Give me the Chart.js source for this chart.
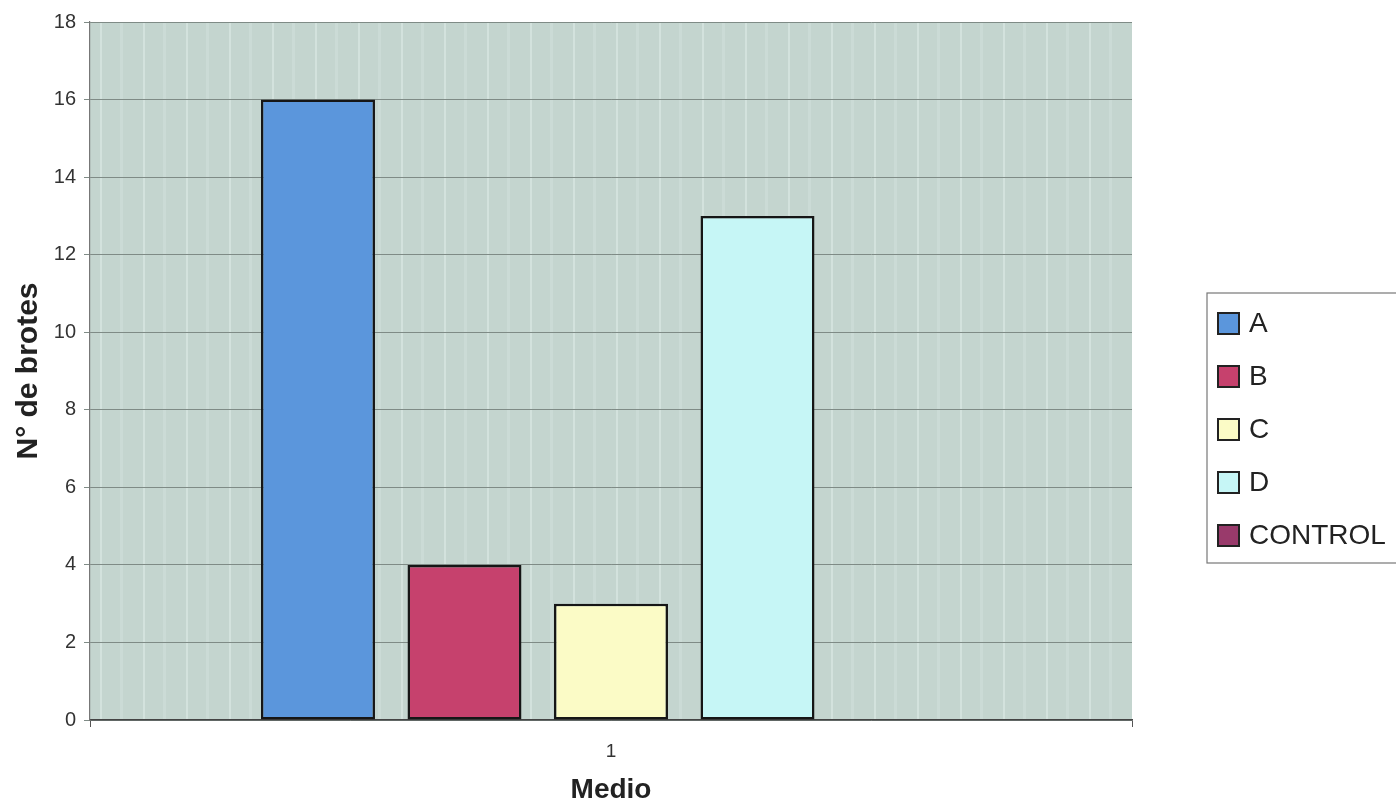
<!DOCTYPE html>
<html>
<head>
<meta charset="utf-8">
<script src="https://cdn.jsdelivr.net/npm/chart.js@4"></script>
<style>
  html, body { margin: 0; padding: 0; background: #fff; overflow: hidden; }
  #wrap { width: 1396px; height: 809px; }
</style>
</head>
<body>
<div id="wrap"><canvas id="chart"></canvas></div>
<script>
const categories = ["1"];
const seriesNames = ["A", "B", "C", "D", "CONTROL"];
const seriesValues = [[16], [4], [3], [13], [0]];
const seriesColors = ["#5b96dc", "#c6416d", "#fbfbc6", "#c6f6f6", "#993a6b"];
const yTicks = [0, 2, 4, 6, 8, 10, 12, 14, 16, 18];

const FONT = "Arial, 'Liberation Sans', sans-serif";

// grey-green plot background with the faint light streaks of the scan
function stripePattern(ctx) {
  const c = document.createElement("canvas");
  c.width = 43;
  c.height = 4;
  const p = c.getContext("2d");
  p.fillStyle = "#c4d5cf";
  p.fillRect(0, 0, 43, 4);
  p.fillStyle = "#d3e2dd";
  p.fillRect(10, 0, 2, 4);
  p.fillStyle = "#cbdbd6";
  p.fillRect(30, 0, 3, 4);
  return ctx.createPattern(c, "repeat");
}

const plotBackground = {
  id: "plotBackground",
  beforeDraw(chart) {
    const { ctx, chartArea: a } = chart;
    ctx.save();
    ctx.translate(a.left, 0);
    ctx.fillStyle = stripePattern(ctx);
    ctx.fillRect(0, a.top, a.right - a.left, a.bottom - a.top);
    ctx.restore();
  }
};

// boxed legend on the right, cut by the page edge like the original
const boxLegend = {
  id: "boxLegend",
  afterDraw(chart) {
    const ctx = chart.ctx;
    const left = 1207, top = 293, bottom = 563;
    ctx.save();
    ctx.strokeStyle = "#777";
    ctx.lineWidth = 1.2;
    ctx.strokeRect(left, top, 400, bottom - top);
    ctx.font = "28px " + FONT;
    ctx.textBaseline = "middle";
    chart.data.datasets.forEach((ds, i) => {
      const cy = 323 + i * 53;
      ctx.fillStyle = ds.backgroundColor;
      ctx.fillRect(1218, cy - 10, 21, 21);
      ctx.strokeStyle = "#222";
      ctx.lineWidth = 2;
      ctx.strokeRect(1218, cy - 10, 21, 21);
      ctx.fillStyle = "#222";
      ctx.fillText(ds.label, 1249, cy + 1);
    });
    ctx.restore();
  }
};

const datasets = seriesNames.map((name, i) => ({
  label: name,
  data: seriesValues[i],
  backgroundColor: seriesColors[i],
  borderColor: "#161616",
  borderWidth: 2.5,
  borderSkipped: false,
  categoryPercentage: 0.703,
  barPercentage: 0.778
}));

new Chart(document.getElementById("chart"), {
  type: "bar",
  data: { labels: categories, datasets },
  options: {
    responsive: true,
    maintainAspectRatio: false,
    animation: false,
    layout: { padding: { top: 22, right: 264, bottom: 0, left: 0 } },
    plugins: {
      legend: { display: false },
      tooltip: { enabled: false }
    },
    scales: {
      x: {
        afterFit(scale) { scale.height = 89; },
        grid: {
          drawOnChartArea: false,
          offset: true,
          color: "#555",
          tickLength: 7
        },
        border: { color: "#444", width: 1.5 },
        ticks: { color: "#333", padding: 13, font: { family: FONT, size: 19 } },
        title: {
          display: true,
          text: "Medio",
          color: "#222",
          padding: { top: 0, bottom: 2 },
          font: { family: FONT, size: 28, weight: "bold" }
        }
      },
      y: {
        min: 0,
        max: 18,
        afterFit(scale) { scale.width = 90; },
        afterBuildTicks(scale) { scale.ticks = yTicks.map(v => ({ value: v })); },
        grid: { color: "#7f8b86", lineWidth: 1, tickLength: 6 },
        border: { color: "#777", width: 1.2 },
        ticks: { color: "#333", padding: 8, font: { family: FONT, size: 20 } },
        title: {
          display: true,
          text: "N° de brotes",
          color: "#222",
          padding: { top: 11, bottom: 0 },
          font: { family: FONT, size: 30, weight: "bold" }
        }
      }
    }
  },
  plugins: [plotBackground, boxLegend]
});
</script>
</body>
</html>
